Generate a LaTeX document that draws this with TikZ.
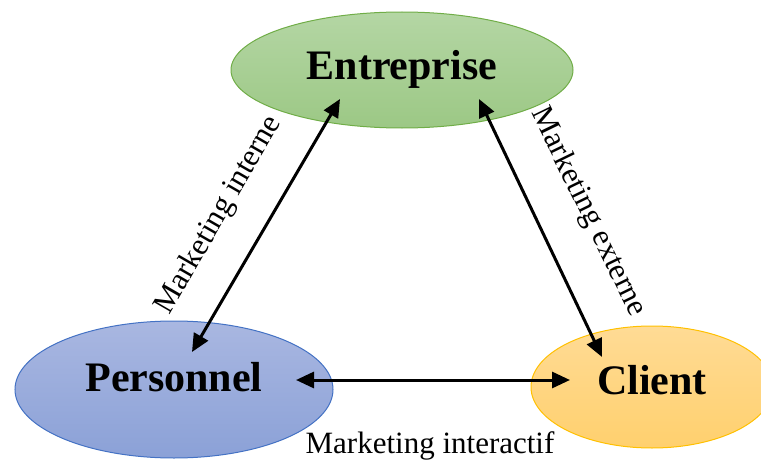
\documentclass[tikz,border=0pt]{standalone}
\usepackage{fontspec}
\setmainfont{Liberation Serif}
\usetikzlibrary{shapes.geometric,arrows.meta}

\definecolor{entTop}{HTML}{B4D6A4}
\definecolor{entBot}{HTML}{9CC885}
\definecolor{entLine}{HTML}{70AD47}
\definecolor{perTop}{HTML}{A9B7E1}
\definecolor{perBot}{HTML}{8BA1D7}
\definecolor{perLine}{HTML}{4472C4}
\definecolor{cliTop}{HTML}{FFDB95}
\definecolor{cliBot}{HTML}{FFD06E}
\definecolor{cliLine}{HTML}{FFC000}

\tikzset{
  actor/.style={ellipse, inner sep=0pt, line width=1pt},
  title/.style={font=\fontsize{42}{48}\selectfont\bfseries, inner sep=0pt, anchor=base},
  flowlabel/.style={font=\fontsize{31}{36}\selectfont, inner sep=0pt},
  link/.style={line width=3pt,
    {Triangle[length=18pt,width=16pt]}-{Triangle[length=18pt,width=16pt]}}
}

\begin{document}
\begin{tikzpicture}[x=1pt, y=-1pt]
  \useasboundingbox (0,0) rectangle (761,460);
  \clip (0,0) rectangle (761,460);

  % the three actors
  \node[actor, draw=entLine, top color=entTop, bottom color=entBot,
        minimum width=342pt, minimum height=116pt] (ent) at (402,70) {};
  \node[actor, draw=perLine, top color=perTop, bottom color=perBot,
        minimum width=318pt, minimum height=137pt] (per) at (174,389.5) {};
  \node[actor, draw=cliLine, top color=cliTop, bottom color=cliBot,
        minimum width=242pt, minimum height=122pt] (cli) at (652,387) {};

  \node[title] (entT) at (402,80) {Entreprise};
  \node[title] (perT) at (174,391) {Personnel};
  \node[title] (cliT) at (652,394) {Client};

  % arrow end points inside the ellipses
  \coordinate (entL) at (340,99);
  \coordinate (entR) at (479,99);
  \coordinate (perU) at (192,352);
  \coordinate (perR) at (296,380);
  \coordinate (cliU) at (602,357);
  \coordinate (cliL) at (570,380);

  % the three marketing relations
  \draw[link] (perU) -- (entL);
  \draw[link] (entR) -- (cliU);
  \draw[link] (perR) -- (cliL);

  \node[flowlabel, rotate=60] (lblIn) at (219,215) {Marketing interne};
  \node[flowlabel, rotate=-64] (lblEx) at (588,212) {Marketing externe};
  \node[flowlabel, anchor=base] (lblIa) at (430,453) {Marketing interactif};
\end{tikzpicture}
\end{document}
